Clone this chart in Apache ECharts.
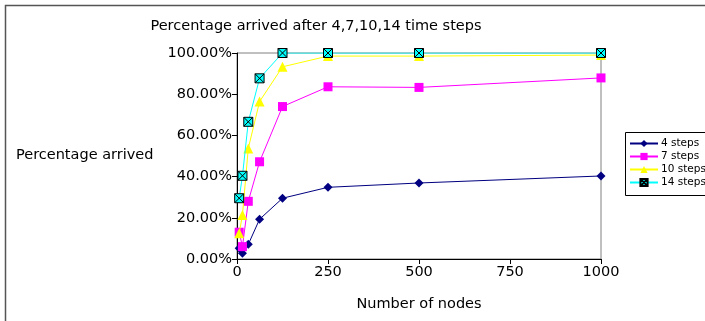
<!DOCTYPE html>
<html>
<head>
<meta charset="utf-8">
<script src="https://cdn.jsdelivr.net/npm/echarts@6/dist/echarts.min.js"></script>
<style>
html,body{margin:0;padding:0;background:#fff;}
#chart{width:705px;height:321px;}
</style>
</head>
<body>
<div id="chart"></div>
<script>
const nodes = [6, 15, 31, 62, 125, 250, 500, 1000];
const steps4 = [5.2, 2.8, 7.1, 19.3, 29.5, 34.8, 36.9, 40.3];
const steps7 = [13.0, 6.0, 28.0, 47.2, 74.0, 83.6, 83.3, 87.9];
const steps10 = [12.5, 21.4, 53.7, 76.4, 93.3, 98.5, 98.5, 99.0];
const steps14 = [29.5, 40.4, 66.6, 87.7, 100, 100, 100, 100];
const seriesNames = ['4 steps', '7 steps', '10 steps', '14 steps'];
const yTicks = [0, 20, 40, 60, 80, 100];
const xTicks = [0, 250, 500, 750, 1000];
const titleText = 'Percentage arrived after 4,7,10,14 time steps';
const yName = 'Percentage arrived';
const xName = 'Number of nodes';

const font = 'DejaVu Sans';
const fs = 14.5;
const chart = echarts.init(document.getElementById('chart'), null, {renderer: 'canvas'});

function pairs(vals) { return nodes.map((n, i) => [n, vals[i]]); }

const crossBox = 'path://M0,0 L10,0 L10,10 L0,10 Z M0,0 L10,10 M10,0 L0,10';

const styles = [
  {color: '#000080', symbol: 'diamond', size: 9, border: '#000080'},
  {color: '#FF00FF', symbol: 'rect', size: 9, border: '#FF00FF'},
  {color: '#FFFF00', symbol: 'triangle', size: 10, border: '#FFFF00'},
  {color: '#00FFFF', symbol: crossBox, size: 9, border: '#000000'}
];
const allData = [steps4, steps7, steps10, steps14];

chart.setOption({
  animation: false,
  backgroundColor: '#fff',
  title: {
    text: titleText,
    left: 311, top: 14, textAlign: 'center',
    textStyle: {fontFamily: font, fontSize: fs, fontWeight: 'normal', color: '#000'}
  },
  legend: {
    orient: 'vertical',
    left: 629, top: 138,
    itemWidth: 28, itemHeight: 9, itemGap: 2,
    padding: [0, 0, 0, 0],
    textStyle: {fontFamily: font, fontSize: 10.5, color: '#000', padding: [0, 0, 0, -2]},
    data: seriesNames
  },
  grid: {
    left: 237, right: 104, top: 53, bottom: 62,
    show: true, borderColor: '#808080', borderWidth: 1, backgroundColor: 'transparent'
  },
  xAxis: {
    type: 'value', min: 0, max: 1000, interval: 250,
    axisLine: {show: true, lineStyle: {color: '#000', width: 1}},
    axisTick: {show: true, length: 5, lineStyle: {color: '#000'}},
    axisLabel: {fontFamily: font, fontSize: fs, color: '#000', margin: 6,
      formatter: v => xTicks.includes(v) ? String(v) : ''},
    splitLine: {show: false},
    name: xName, nameLocation: 'middle', nameGap: 38,
    nameTextStyle: {fontFamily: font, fontSize: fs, color: '#000'}
  },
  yAxis: {
    type: 'value', min: 0, max: 100, interval: 20,
    axisLine: {show: true, lineStyle: {color: '#000', width: 1}},
    axisTick: {show: true, length: 5, lineStyle: {color: '#000'}},
    axisLabel: {fontFamily: font, fontSize: fs, color: '#000', margin: 5,
      formatter: v => yTicks.includes(v) ? v.toFixed(2) + '%' : ''},
    splitLine: {show: false}
  },
  graphic: [
    {type: 'rect', shape: {x: 5.5, y: 5.5, width: 900, height: 500},
     style: {fill: 'none', stroke: '#555', lineWidth: 1.5}, silent: true, z: -1},
    {type: 'text', left: 16, top: 148,
     style: {text: yName, font: fs + 'px "DejaVu Sans"', fill: '#000'}},
    {type: 'rect', shape: {x: 625.5, y: 132.5, width: 200, height: 63},
     style: {fill: 'none', stroke: '#000', lineWidth: 1}, silent: true}
  ],
  series: allData.map((d, i) => ({
    name: seriesNames[i],
    type: 'line',
    data: pairs(d),
    symbol: styles[i].symbol,
    symbolSize: styles[i].size,
    showSymbol: true,
    lineStyle: {color: styles[i].color, width: 1},
    itemStyle: {color: styles[i].color, borderColor: styles[i].border, borderWidth: i === 3 ? 1 : 0, opacity: 1},
    emphasis: {disabled: true},
    z: 2 + i
  }))
});
</script>
</body>
</html>
